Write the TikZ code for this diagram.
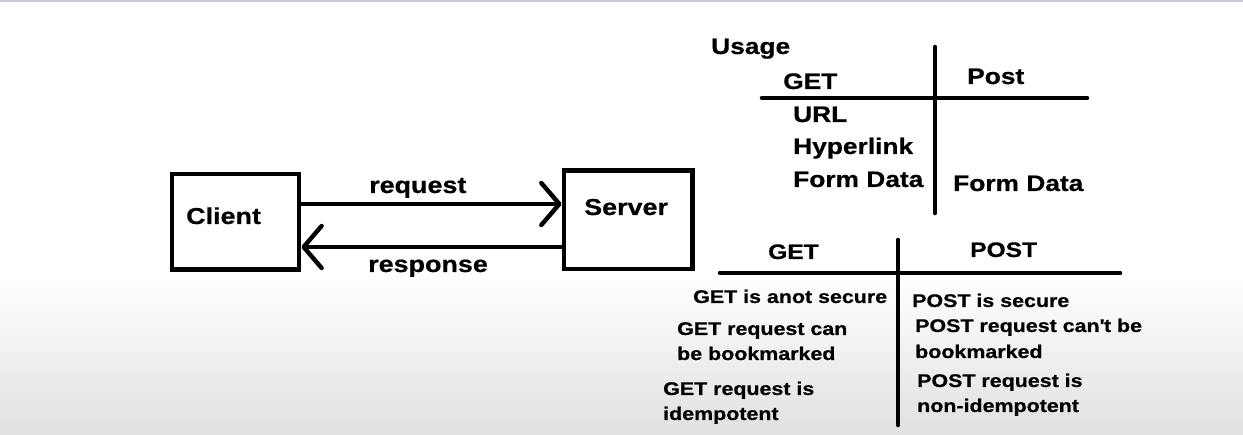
\documentclass[tikz,border=0pt]{standalone}
\usepackage{fontspec}
\setmainfont{Liberation Sans}[FakeStretch=1.17, BoldFeatures={FakeBold=0.6}]
\usetikzlibrary{arrows.meta}
\usetikzlibrary{positioning}

\tikzset{box/.style={draw, very thick, line width=4.8pt, inner sep=0pt}}
\tikzset{lbl/.style={inner sep=0pt, anchor=base west, font=\bfseries}}
\tikzset{rule/.style={line width=4.6pt, line cap=round}}
\tikzset{msg/.style={line width=4.4pt, -{Straight Barb[length=18pt,width=42pt,round]}}}

\begin{document}
\begin{tikzpicture}[x=1pt, y=-1pt]
\useasboundingbox (0,0) rectangle (1243,435);
% page and the grey fade at the bottom
\fill[white] (0,0) rectangle (1243,435);
\shade[top color=white, bottom color=black!12] (0,275) rectangle (1243,435);
\fill[blue!20!gray!35] (0,0) rectangle (1243,2);

% client / server
\node[box, minimum width=127pt, minimum height=95.5pt] (client) at (235.5,221.8) {};
\node[box, minimum width=128.5pt, minimum height=98.5pt] (server) at (628.2,219.8) {};
\node[lbl, font=\fontsize{23}{26}\selectfont\bfseries] (clienttxt) at (186,224) {Client};
\node[lbl, font=\fontsize{23}{26}\selectfont\bfseries] (servertxt) at (584,215) {Server};

\draw[msg] (client.east |- 0,204) -- (server.west |- 0,204);
\draw[msg] (server.west |- 0,247) -- (client.east |- 0,247);
\node[lbl, font=\fontsize{23}{26}\selectfont\bfseries] (reqtxt) at (369,193) {request};
\node[lbl, font=\fontsize{23}{26}\selectfont\bfseries] (restxt) at (368,272) {response};

% usage table
\coordinate (uL) at (762,98);
\coordinate (uR) at (1087,98);
\coordinate (uT) at (935,47);
\coordinate (uB) at (935,213);
\draw[rule] (uL) -- (uR);
\draw[rule] (uT) -- (uB);
\begin{scope}[every node/.style={lbl, font=\fontsize{22.5}{26}\selectfont\bfseries}]
\node (usage) at (711,54) {Usage};
\node (uget) at (783,89) {GET};
\node (upost) at (967,84) {Post};
\node (url) at (793,122) {URL};
\node (hyper) at (793,154) {Hyperlink};
\node (formget) at (793,187) {Form Data};
\node (formpost) at (953,191) {Form Data};
\end{scope}

% get vs post table
\coordinate (cL) at (720,273);
\coordinate (cR) at (1120,273);
\coordinate (cT) at (898,240);
\coordinate (cB) at (898,425);
\draw[rule] (cL) -- (cR);
\draw[rule] (cT) -- (cB);
\node[lbl, font=\fontsize{21}{24}\selectfont\bfseries] (cget) at (768,259) {GET};
\node[lbl, font=\fontsize{21}{24}\selectfont\bfseries] (cpost) at (970,257) {POST};
\begin{scope}[every node/.style={lbl, font=\fontsize{18.3}{22}\selectfont\bfseries}]
\node (g1) at (693,303) {GET is anot secure};
\node (g2) at (677,335) {GET request can};
\node (g3) at (677,360) {be bookmarked};
\node (g4) at (663,395) {GET request is};
\node (g5) at (663,420) {idempotent};
\node (p1) at (912,307) {POST is secure};
\node (p2) at (915,332) {POST request can\textquotesingle t be};
\node (p3) at (915,358) {bookmarked};
\node (p4) at (917,387) {POST request is};
\node (p5) at (917,412) {non-idempotent};
\end{scope}
\end{tikzpicture}
\end{document}
